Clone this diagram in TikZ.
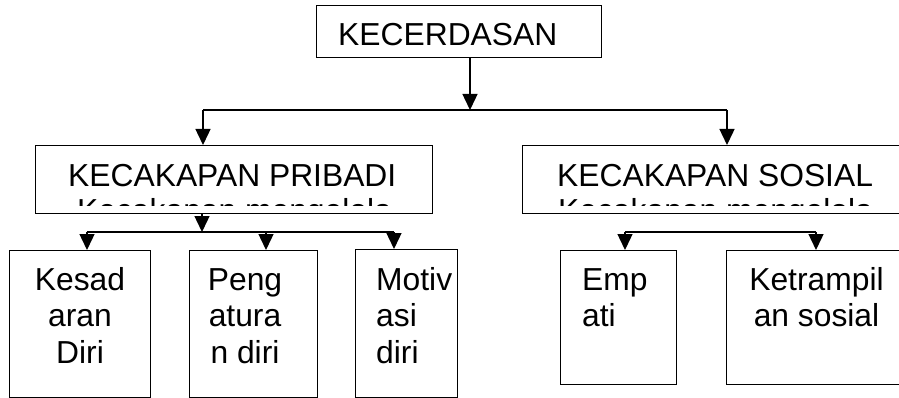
\documentclass[tikz,border=0pt]{standalone}
\usepackage{fontspec}
\setmainfont{Liberation Sans}
\usetikzlibrary{arrows.meta}
\newcommand{\bigtxt}{\fontsize{31.8}{36.5}\selectfont}
\tikzset{
  box/.style={draw, line width=1.4pt, inner sep=0pt, anchor=north west},
  lbl/.style={inner sep=0pt, anchor=base west, font=\bigtxt},
  mlbl/.style={inner sep=0pt, font=\bigtxt},
  ln/.style={line width=1.4pt},
  arr/.style={line width=1.4pt, -{Triangle[width=15pt,length=16pt]}}
}
\begin{document}
\begin{tikzpicture}[x=1pt,y=-1pt]
\clip (0,0) rectangle (899,398);
\fill[white] (0,0) rectangle (899,398);
% boxes
\node[box, minimum width=285pt, minimum height=52pt] (top) at (316,5) {};
\node[box, minimum width=397pt, minimum height=68pt] (pri) at (35,145) {};
\node[box, minimum width=393pt, minimum height=68pt] (sos) at (522,145) {};
\node[box, minimum width=141pt, minimum height=147pt] (kes) at (9,250) {};
\node[box, minimum width=128pt, minimum height=147pt] (pen) at (189,250) {};
\node[box, minimum width=102pt, minimum height=148pt] (mot) at (355,249) {};
\node[box, minimum width=116pt, minimum height=134pt] (emp) at (560,250) {};
\node[box, minimum width=189pt, minimum height=134pt] (ket) at (726,250) {};
% texts
\node[lbl] (toptxt) at (338,46) {KECERDASAN};
\node[lbl] (pritxt) at (68,187) {KECAKAPAN PRIBADI};
\node[lbl] (sostxt) at (557,187) {KECAKAPAN SOSIAL};
\begin{scope}
\clip (35,145) rectangle (432,205.5);
\node[lbl] (prisub) at (77,222) {Kecakapan mengelola};
\end{scope}
\begin{scope}
\clip (522,145) rectangle (899,205.5);
\node[lbl] (sossub) at (558,222) {Kecakapan mengelola};
\end{scope}
\node[mlbl, align=center, anchor=base] (kestxt) at (80,363) {Kesad\\aran\\Diri};
\node[mlbl, align=center, anchor=base] (pentxt) at (245,363) {Peng\\atura\\n diri};
\node[mlbl, align=left, anchor=base west] (mottxt) at (376,363) {Motiv\\asi\\diri};
\node[mlbl, align=left, anchor=base west] (emptxt) at (582,326.5) {Emp\\ati};
\node[mlbl, align=center, anchor=base] (kettxt) at (816.5,326.5) {Ketrampil\\an sosial};
% connectors level 1
\coordinate (b1) at (470,110);
\coordinate (b1l) at (203,110);
\coordinate (b1r) at (727,110);
\draw[arr] (top.south -| b1) -- (b1);
\draw[ln] (b1l) -- (b1r);
\draw[arr] (b1l) -- (pri.north -| b1l);
\draw[arr] (b1r) -- (sos.north -| b1r);
% connectors level 2 left
\coordinate (b2) at (202,232);
\coordinate (b2a) at (87,232);
\coordinate (b2b) at (266,232);
\coordinate (b2c) at (394,232);
\draw[arr] (pri.south -| b2) -- (b2);
\draw[ln] (b2a) -- (b2c);
\draw[arr] (b2a) -- (kes.north -| b2a);
\draw[arr] (b2b) -- (pen.north -| b2b);
\draw[arr] (b2c) -- (mot.north -| b2c);
% connectors level 2 right
\coordinate (b3a) at (625,232);
\coordinate (b3b) at (816,232);
\draw[ln] (b3a) -- (b3b);
\draw[arr] (b3a) -- (emp.north -| b3a);
\draw[arr] (b3b) -- (ket.north -| b3b);
\end{tikzpicture}
\end{document}
